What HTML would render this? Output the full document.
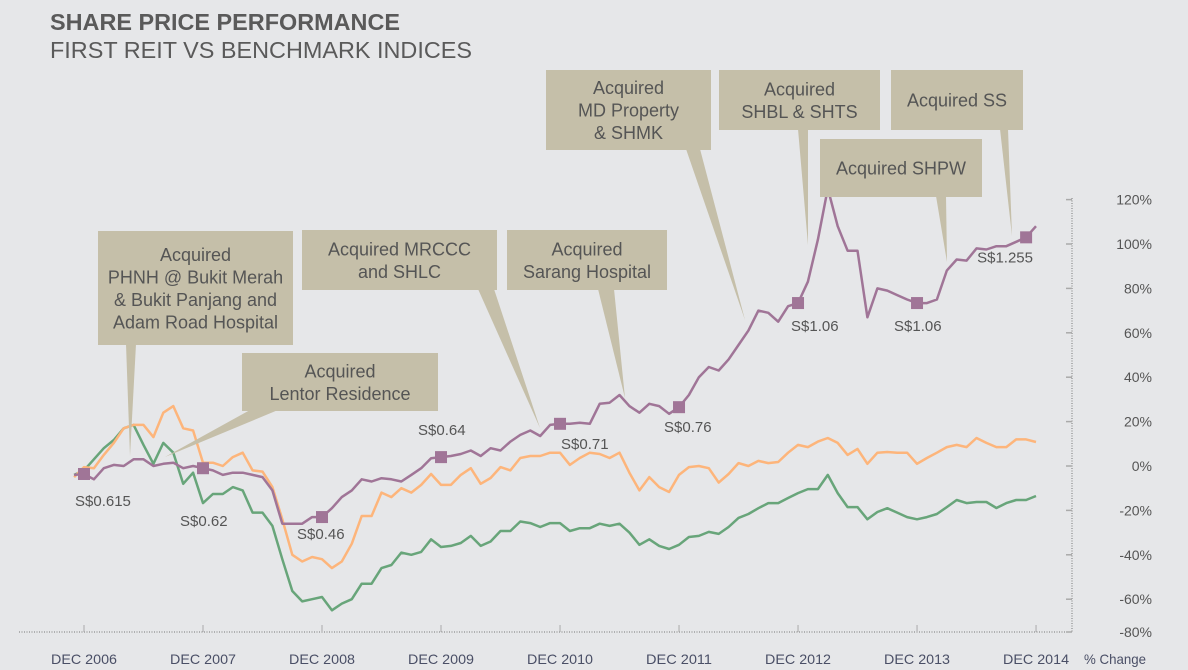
<!DOCTYPE html>
<html><head><meta charset="utf-8">
<style>
html,body{margin:0;padding:0;background:#e6e7e9;}
svg{display:block;font-family:"Liberation Sans",sans-serif;}
</style></head>
<body>
<svg id="chart" width="1188" height="670" viewBox="0 0 1188 670" xmlns="http://www.w3.org/2000/svg">
<rect width="1188" height="670" fill="#e6e7e9"/>
<text x="50" y="30" font-size="23" font-weight="bold" fill="#5a5a5a" textLength="350" lengthAdjust="spacingAndGlyphs">SHARE PRICE PERFORMANCE</text>
<text x="50" y="58" font-size="23" fill="#5a5a5a" textLength="422" lengthAdjust="spacingAndGlyphs">FIRST REIT VS BENCHMARK INDICES</text>
<g id="axes"></g>
<g id="series"></g>
<g id="callouts"></g>
</svg>
<script>
const startMonth = -1;
const yearLabels = ["DEC 2006","DEC 2007","DEC 2008","DEC 2009","DEC 2010","DEC 2011","DEC 2012","DEC 2013","DEC 2014"];
const yTicks = [120,100,80,60,40,20,0,-20,-40,-60,-80];
const firstReit = [-4,-3.6,-6,-1,0.5,0,3,3,0,1,1.5,-1,0,-1,-2,-4,-3,-3,-4,-5,-11,-26,-26,-26,-23,-23,-19,-14,-11,-6,-7,-5.5,-6,-7,-4,-1,3.5,4,4.5,5.4,7,4.5,8,7,11,14,16,13.5,18.5,19,19,19.5,19,28,28.5,32,27,24,28,27,23.5,26.5,32,40,44.6,43,48,54.5,61,70,69,65,72,73.4,83,102,125,108,97,97,67,80,79,77,75,73.4,73.4,75,88,93,92.5,98,97.5,99,99,101,103,108];
const orangeIdx = [-5,-0.5,-1,5,10.4,17,18.5,18.5,13,24,27,17,16,1.5,1.5,0,4,6,-2,-2.5,-9.5,-24,-40,-43,-41,-42,-46,-43,-35,-22.5,-22.5,-12,-14,-10,-12,-8.5,-3.6,-8.5,-8.5,-4,-1,-8,-5.4,-0.5,-2,3.6,4.5,4.5,6,6,0.5,3.6,6,5.4,3.6,6,-3,-11,-5,-9.5,-11.7,-4,-0.5,0,-1,-7.5,-3.6,1.3,0,2.3,1.3,1.8,6,9.5,8.5,11,12.6,10.4,5,7.7,1,6,6.3,6,6,1,3.6,6,8.5,9.5,8.5,12.6,10.4,8.5,8.5,12,12,10.8];
const greenIdx = [-4,-2,3,8,11.7,17,18.5,9.5,1,10.4,6,-8,-3,-16.7,-12.6,-12.6,-9.5,-11,-21,-21,-27,-42,-56.3,-61,-60,-59,-65,-62,-60,-53,-53,-46,-44.6,-39,-40,-38.7,-33,-36.5,-36,-34.7,-31.5,-36,-34,-29.3,-29.3,-25,-25.7,-27.5,-25.7,-25.7,-29.3,-28,-28,-26,-27,-26,-30,-35.5,-33,-36,-37.4,-35.5,-32,-31.5,-29.7,-30.6,-27.5,-23.4,-21.6,-19,-16.7,-16.7,-14.4,-12.2,-10.4,-10.4,-4,-12.2,-18.5,-18.5,-24,-20.7,-19,-21,-23,-24,-23,-21.6,-18.5,-15.3,-16.7,-16.2,-16.2,-18.9,-16.7,-15.3,-15.3,-13.5];
const markerMonths = [0,12,24,36,48,60,72,84,95];
const markerLabels = ["S$0.615","S$0.62","S$0.46","S$0.64","S$0.71","S$0.76","S$1.06","S$1.06","S$1.255"];

const NS="http://www.w3.org/2000/svg";
const X = m => 84 + m*9.917;
const Y = v => 466 - v*2.22;
function mk(tag, attrs, parent){const e=document.createElementNS(NS,tag);for(const k in attrs)e.setAttribute(k,attrs[k]);parent.appendChild(e);return e;}
const axes=document.getElementById('axes'), ser=document.getElementById('series'), cal=document.getElementById('callouts');

let e=mk('line',{x1:19,y1:632,x2:1072,y2:632,stroke:'#777','stroke-width':1,'stroke-dasharray':'1,1.5'},axes);


e=mk('line',{x1:1072,y1:198,x2:1072,y2:632,stroke:'#777','stroke-width':1,'stroke-dasharray':'1,1.5'},axes);


yearLabels.forEach((lab,i)=>{
  const x=X(i*12);
  let t=mk('line',{x1:x,y1:625,x2:x,y2:632,stroke:'#aaa','stroke-width':1},axes);
  
  
  let tx=mk('text',{x:x,y:664,'font-size':14,fill:'#4a4f66','text-anchor':'middle','textLength':66,'lengthAdjust':'spacingAndGlyphs'},axes);
  tx.textContent=lab;
  
  
});
e=mk('text',{x:1084,y:664,'font-size':14,fill:'#4a4f66','textLength':62,'lengthAdjust':'spacingAndGlyphs'},axes);
e.textContent='% Change';


yTicks.forEach(v=>{
  const y=v===-80?632:Y(v);
  let t=mk('line',{x1:1066,y1:y,x2:1072,y2:y,stroke:'#aaa','stroke-width':1.5},axes);
  
  
  let tx=mk('text',{x:1152,y:y+5,'font-size':14,fill:'#555','text-anchor':'end'},axes);
  tx.textContent=v+'%';
  
  
});

function line(arr,color,name){
  const pts=arr.map((v,i)=>X(i+startMonth).toFixed(1)+','+Y(v).toFixed(1)).join(' ');
  const p=mk('polyline',{points:pts,fill:'none',stroke:color,'stroke-width':2.5,'stroke-linejoin':'round'},ser);
  
  
}
line(greenIdx,'#68a57a','benchmark-green-line');
line(orangeIdx,'#fdb57b','benchmark-orange-line');
line(firstReit,'#a07597','first-reit-line');

const labelOff=[[-6,32],[-20,58],[-22,22],[-20,-22],[4,25],[-12,25],[-4,28],[-20,28],[-46,25]];
markerMonths.forEach((m,i)=>{
  const v=firstReit[m-startMonth], x=X(m), y=Y(v);
  const r=mk('rect',{x:x-6,y:y-6,width:12,height:12,fill:'#a07597'},ser);
  
  
  const t=mk('text',{x:x+labelOff[i][0]-3,y:y+labelOff[i][1],'font-size':15,fill:'#555'},ser);
  t.textContent=markerLabels[i];
  
  
});
const callouts=[
 {b:[98,231,195,114],lines:["Acquired","PHNH @ Bukit Merah","& Bukit Panjang and","Adam Road Hospital"],t:[126,136,130,456]},
 {b:[242,353,196,58],lines:["Acquired","Lentor Residence"],t:[250,278,165,457]},
 {b:[302,230,195,60],lines:["Acquired MRCCC","and SHLC"],t:[478,494,540,428]},
 {b:[507,230,160,60],lines:["Acquired","Sarang Hospital"],t:[598,614,625,398]},
 {b:[546,70,165,80],lines:["Acquired","MD Property","& SHMK"],t:[686,700,745,320]},
 {b:[719,70,161,60],lines:["Acquired","SHBL & SHTS"],t:[798,808,808,245]},
 {b:[820,139,162,58],lines:["Acquired SHPW"],t:[936,946,947,262]},
 {b:[891,70,132,60],lines:["Acquired SS"],t:[1000,1008,1012,236]}
];
callouts.forEach(c=>{
  const [bx,by,bw,bh]=c.b, yb=by+bh;
  const g=mk('g',{},cal);
  
  
  mk('polygon',{points:`${c.t[0]},${yb-1} ${c.t[1]},${yb-1} ${c.t[2]},${c.t[3]}`,fill:'#c5bfa9'},g);
  mk('rect',{x:bx,y:by,width:bw,height:bh,fill:'#c5bfa9'},g);
  const n=c.lines.length, lh=22.5, y0=by+bh/2-(n-1)*lh/2+6.5;
  c.lines.forEach((l,i)=>{
    const t=mk('text',{x:bx+bw/2,y:y0+i*lh,'font-size':18,fill:'#555','text-anchor':'middle'},g);
    t.textContent=l;
  });
});
</script>
</body></html>
